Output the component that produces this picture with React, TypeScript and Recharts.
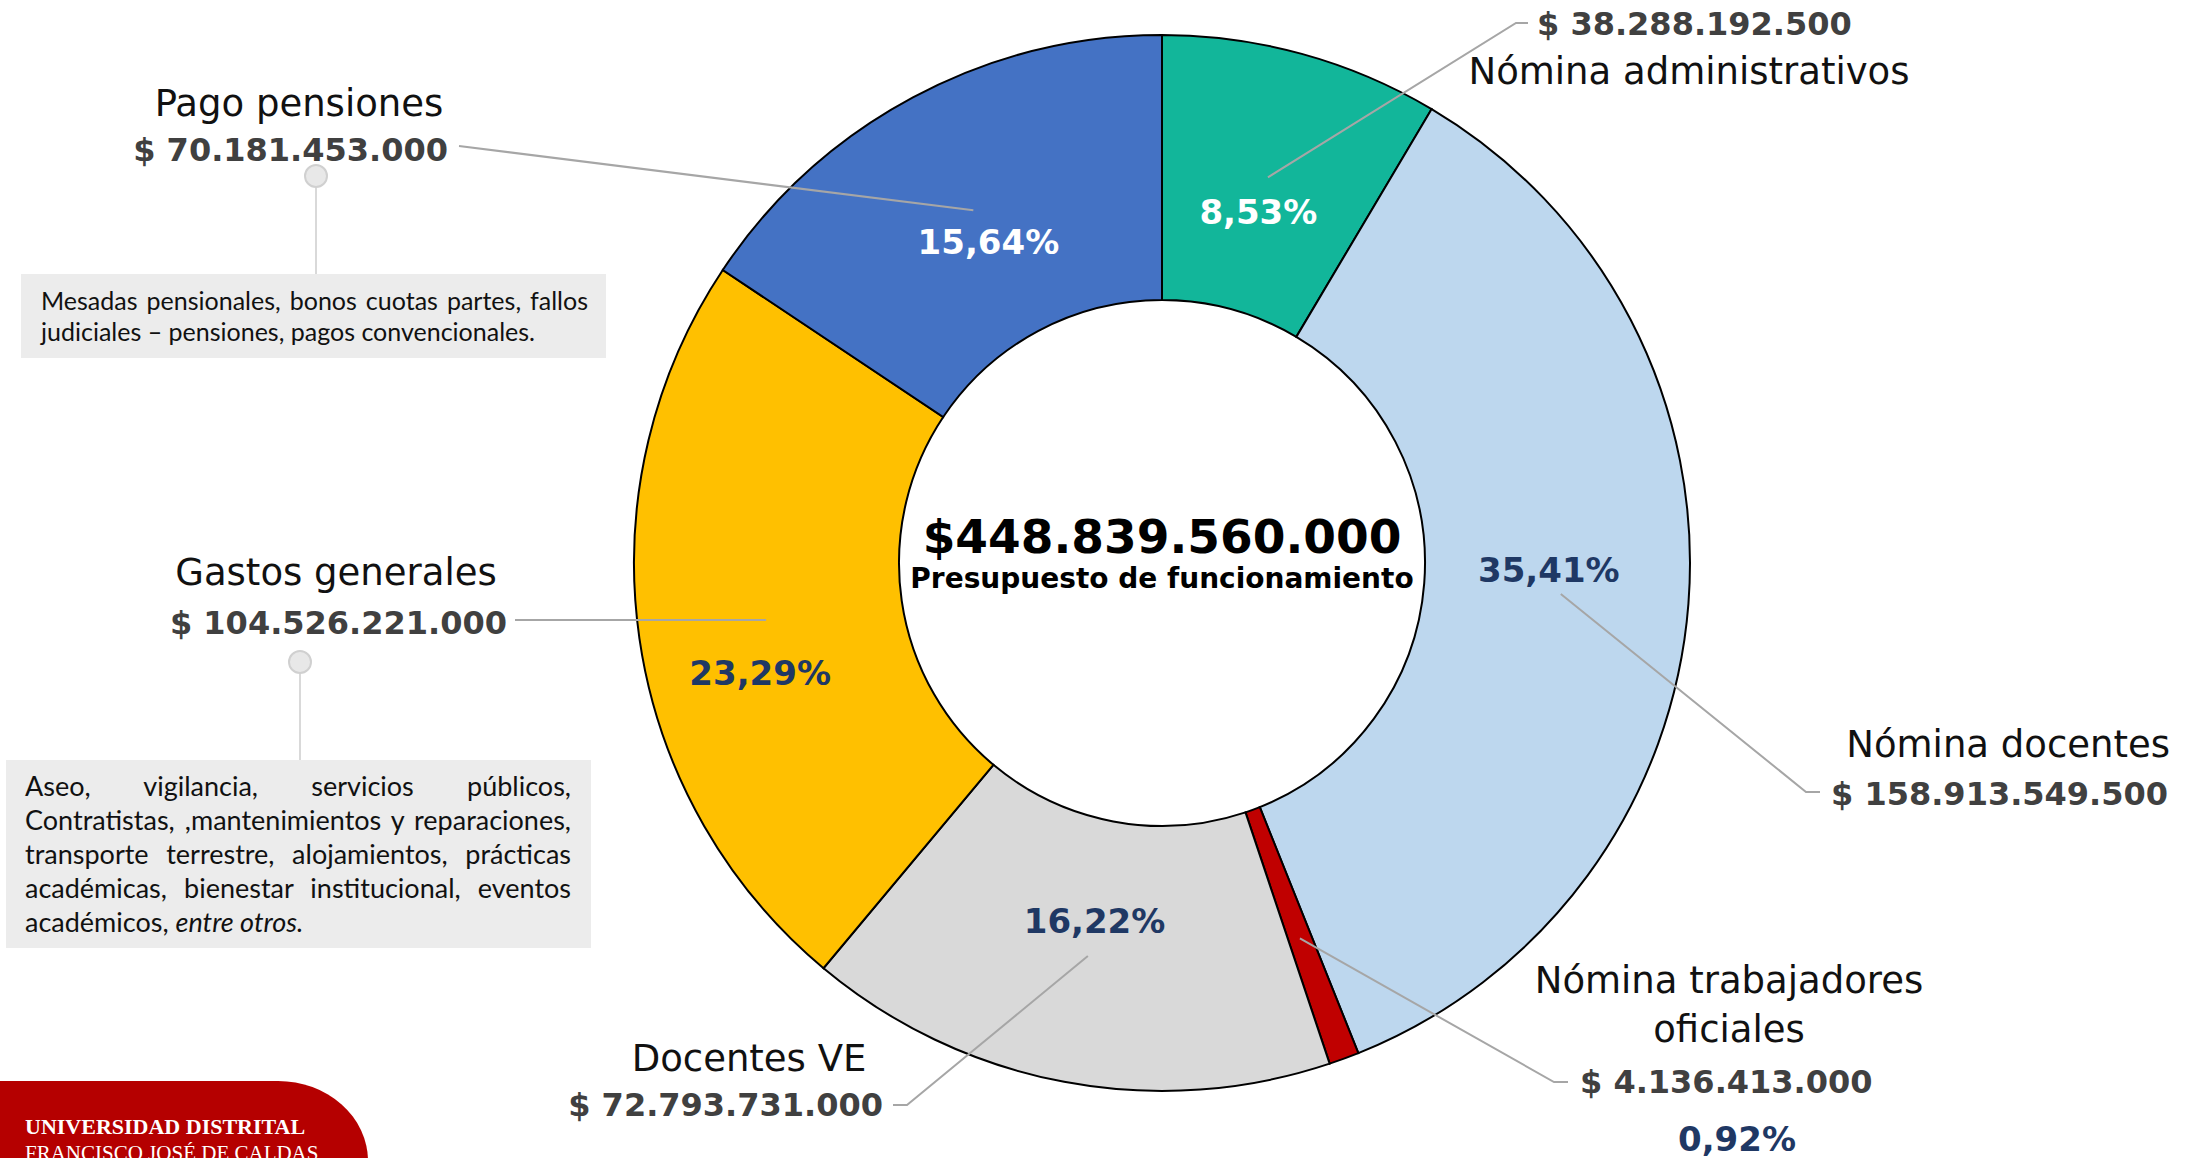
import { PieChart, Pie, Cell } from 'recharts';

const categories = [
  'Nómina administrativos',
  'Nómina docentes',
  'Nómina trabajadores oficiales',
  'Docentes VE',
  'Gastos generales',
  'Pago pensiones',
];
const amounts = [38288192500, 158913549500, 4136413000, 72793731000, 104526221000, 70181453000];
const sliceColors = ['#12B69A', '#BDD7EE', '#C00000', '#D9D9D9', '#FFC000', '#4472C4'];
const pctColors = ['#FFFFFF', '#1F3864', '#1F3864', '#1F3864', '#1F3864', '#FFFFFF'];
const totalLabel = '$448.839.560.000';
const centerSubtitle = 'Presupuesto de funcionamiento';
const pensionNote = ['Mesadas pensionales, bonos cuotas partes, fallos', 'judiciales – pensiones, pagos convencionales.'];
const generalNote = [
  'Aseo, vigilancia, servicios públicos,',
  'Contratistas, ,mantenimientos y reparaciones,',
  'transporte terrestre, alojamientos, prácticas',
  'académicas, bienestar institucional, eventos',
  'académicos,',
];
const generalNoteItalic = 'entre otros.';

const data = categories.map((name, i) => ({ name, value: amounts[i] }));

// where the callout texts sit (layout only)
const callouts = [
  { words: [3], lines: [[1689, 84, 'middle']], amount: [1537, 35, 'start'], leader: [[1528, 23], [1516, 23]], pctR: 364, pctDy: 0 },
  { words: [2], lines: [[2170, 757, 'end']], amount: [1831, 805, 'start'], leader: [[1820, 792], [1806, 792]], pctR: 388, pctDy: -23 },
  { words: [2, 1], lines: [[1729, 993, 'middle'], [1729, 1042, 'middle']], amount: [1580, 1093, 'start'], leader: [[1568, 1082], [1554, 1082]], pctOut: [1737, 1151] },
  { words: [2], lines: [[749, 1071, 'middle']], amount: [883, 1116, 'end'], leader: [[893, 1105], [907, 1105]], pctR: 364, pctDy: 0 },
  { words: [2], lines: [[336, 585, 'middle']], amount: [507, 634, 'end'], leader: [[515, 620]], pctR: 406, pctDy: 52, dot: [300, 662, 760] },
  { words: [2], lines: [[299, 116, 'middle']], amount: [448, 161, 'end'], leader: [[459, 146]], pctR: 368, pctDy: 3, dot: [316, 176, 274] },
];

const RAD = Math.PI / 180;
const FONT = '"DejaVu Sans", Verdana, sans-serif';
const fmt = (v: number) => '$ ' + String(v).replace(/\B(?=(\d{3})+(?!\d))/g, '.');
const fmtPct = (p: number) => (p * 100).toFixed(2).replace('.', ',') + '%';

const renderLabel = (props: any) => {
  const { cx, cy, midAngle, percent, index } = props;
  const c = callouts[index];
  const at = (r: number) => ({ x: cx + r * Math.cos(-midAngle * RAD), y: cy + r * Math.sin(-midAngle * RAD) });
  const end = at(400);
  const pts = [...c.leader, [end.x, end.y]].map((p) => p.join(',')).join(' ');
  const words = categories[index].split(' ');
  let w = 0;
  const lineTexts = c.words.map((n) => {
    const t = words.slice(w, w + n).join(' ');
    w += n;
    return t;
  });
  const pctPos = c.pctOut ? null : at(c.pctR);
  return (
    <g key={'lab' + index}>
      {index === 0 && (
        <g>
          <text x={cx} y={cy - 10} textAnchor="middle" fontFamily={FONT} fontWeight="bold" fontSize={47} fill="#000">
            {totalLabel}
          </text>
          <text x={cx} y={cy + 25} textAnchor="middle" fontFamily={FONT} fontWeight="bold" fontSize={28} fill="#000">
            {centerSubtitle}
          </text>
        </g>
      )}
      <polyline points={pts} fill="none" stroke="#A6A6A6" strokeWidth={2} />
      {c.dot && (
        <g>
          <line x1={c.dot[0]} y1={c.dot[1] + 11} x2={c.dot[0]} y2={c.dot[2]} stroke="#D9D9D9" strokeWidth={2} />
          <circle cx={c.dot[0]} cy={c.dot[1]} r={11} fill="#E8E8E8" stroke="#D0D0D0" strokeWidth={2} />
        </g>
      )}
      {lineTexts.map((t, i) => (
        <text key={i} x={c.lines[i][0]} y={c.lines[i][1]} textAnchor={c.lines[i][2]} fontFamily={FONT} fontSize={37} fill="#111">
          {t}
        </text>
      ))}
      <text x={c.amount[0]} y={c.amount[1]} textAnchor={c.amount[2]} fontFamily={FONT} fontWeight="bold" fontSize={32} fill="#404040">
        {fmt(amounts[index])}
      </text>
      {pctPos ? (
        <text x={pctPos.x} y={pctPos.y + c.pctDy} textAnchor="middle" dominantBaseline="central" fontFamily={FONT} fontWeight="bold" fontSize={34} fill={pctColors[index]}>
          {fmtPct(percent)}
        </text>
      ) : (
        <text x={c.pctOut[0]} y={c.pctOut[1]} textAnchor="middle" fontFamily={FONT} fontWeight="bold" fontSize={34} fill={pctColors[index]}>
          {fmtPct(percent)}
        </text>
      )}
    </g>
  );
};

const noteStyle = {
  position: 'absolute' as const,
  background: '#ECECEC',
  fontFamily: 'Lato, "Open Sans", sans-serif',
  color: '#111',
  boxSizing: 'border-box' as const,
};

const NoteLines = ({ lines, tail }: { lines: string[]; tail?: string }) => (
  <>
    {lines.map((l, i) => {
      const last = i === lines.length - 1;
      return (
        <div key={i} style={{ textAlign: 'justify', textAlignLast: last ? 'left' : 'justify', whiteSpace: 'nowrap' }}>
          {l}
          {last && tail ? (
            <>
              {' '}
              <i>{tail}</i>
            </>
          ) : null}
        </div>
      );
    })}
  </>
);

export default function App() {
  return (
    <div style={{ position: 'absolute', left: 0, top: 0, width: 2195, height: 1158, overflow: 'hidden', background: '#fff' }}>
      <PieChart width={2195} height={1158} margin={{ top: 0, right: 0, bottom: 0, left: 0 }}>
        <Pie
          data={data}
          dataKey="value"
          nameKey="name"
          cx={1162}
          cy={563}
          innerRadius={263}
          outerRadius={528}
          startAngle={90}
          endAngle={-270}
          stroke="#000"
          strokeWidth={2}
          label={renderLabel}
          labelLine={false}
          isAnimationActive={false}
        >
          {data.map((d, i) => (
            <Cell key={d.name} fill={sliceColors[i]} />
          ))}
        </Pie>
      </PieChart>
      <div style={{ ...noteStyle, left: 21, top: 274, width: 585, height: 84, padding: '11px 18px 0 20px', fontSize: 25, lineHeight: '31px' }}>
        <NoteLines lines={pensionNote} />
      </div>
      <div style={{ ...noteStyle, left: 6, top: 760, width: 585, height: 188, padding: '9px 20px 0 19px', fontSize: 27, lineHeight: '34px' }}>
        <NoteLines lines={generalNote} tail={generalNoteItalic} />
      </div>
      <div
        style={{
          position: 'absolute',
          left: 0,
          top: 1081,
          width: 368,
          height: 100,
          background: '#B50000',
          borderTopRightRadius: '90px 80px',
          fontFamily: '"Liberation Serif", "DejaVu Serif", serif',
          color: '#fff',
        }}
      >
        <div style={{ position: 'absolute', left: 25, top: 33, fontSize: 22, fontWeight: 'bold', whiteSpace: 'nowrap' }}>UNIVERSIDAD DISTRITAL</div>
        <div style={{ position: 'absolute', left: 25, top: 60, fontSize: 21, whiteSpace: 'nowrap' }}>FRANCISCO JOSÉ DE CALDAS</div>
      </div>
    </div>
  );
}
